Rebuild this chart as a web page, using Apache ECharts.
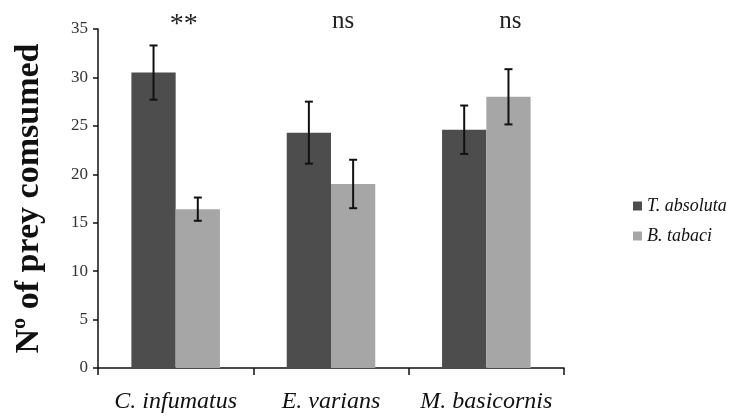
<!DOCTYPE html>
<html>
<head>
<meta charset="utf-8">
<script src="https://cdn.jsdelivr.net/npm/echarts@6/dist/echarts.min.js"></script>
<style>
  html, body { margin: 0; padding: 0; background: #fff; }
  #main { width: 733px; height: 416px; }
</style>
</head>
<body>
<div id="main"></div>
<script>
// data
var categories = ['C. infumatus', 'E. varians', 'M. basicornis'];
var tAbsoluta = [30.5, 24.3, 24.6];
var tAbsolutaErr = [2.8, 3.2, 2.5];
var bTabaci = [16.4, 19.0, 28.0];
var bTabaciErr = [1.2, 2.5, 2.85];
var signif = ['**', 'ns', 'ns'];

var serif = '"Liberation Serif", "DejaVu Serif", serif';
var barFrac = 0.285;

// error bar drawer, side -1 = left bar, +1 = right bar
function errItem(vals, errs, side) {
  return function (params, api) {
    var i = api.value(0);
    var bw = api.size([1, 0])[0] * barFrac;
    var x = api.coord([i, 0])[0] + side * bw / 2;
    var top = api.coord([i, vals[i] + errs[i]])[1];
    var bot = api.coord([i, vals[i] - errs[i]])[1];
    var cap = 4;
    var st = { stroke: '#111', lineWidth: 2 };
    return {
      type: 'group',
      children: [
        { type: 'line', shape: { x1: x, y1: top, x2: x, y2: bot }, style: st },
        { type: 'line', shape: { x1: x - cap, y1: top, x2: x + cap, y2: top }, style: st },
        { type: 'line', shape: { x1: x - cap, y1: bot, x2: x + cap, y2: bot }, style: st }
      ]
    };
  };
}

var chart = echarts.init(document.getElementById('main'));
var option = {
  animation: false,
  backgroundColor: '#fff',
  grid: { left: 98, right: 169, top: 29, bottom: 48 },
  legend: {
    orient: 'vertical',
    left: 628,
    top: 192,
    itemWidth: 9,
    itemHeight: 9,
    itemGap: 12,
    icon: 'rect',
    textStyle: { fontFamily: serif, fontStyle: 'italic', fontSize: 18, color: '#111' },
    data: ['T. absoluta', 'B. tabaci']
  },
  xAxis: {
    type: 'category',
    data: categories,
    axisLine: { lineStyle: { color: '#111', width: 1.5 } },
    axisTick: { show: true, interval: 0, length: 7, inside: false, lineStyle: { color: '#111', width: 1.5 } },
    axisLabel: {
      interval: 0,
      hideOverlap: false,
      fontFamily: serif, fontStyle: 'italic', fontSize: 24, color: '#111', margin: 22
    }
  },
  yAxis: {
    type: 'value',
    min: 0,
    max: 35,
    interval: 5,
    name: 'Nº of prey comsumed',
    nameLocation: 'middle',
    nameGap: 52,
    nameTextStyle: { fontFamily: serif, fontWeight: 'bold', fontSize: 34, color: '#111' },
    axisLine: { show: true, lineStyle: { color: '#111', width: 1.5 } },
    axisTick: { show: true, length: 5, lineStyle: { color: '#111', width: 1.5 } },
    splitLine: { show: false },
    axisLabel: { fontFamily: serif, fontSize: 17, color: '#333', margin: 10 }
  },
  series: [
    {
      name: 'T. absoluta',
      type: 'bar',
      data: tAbsoluta,
      barWidth: (barFrac * 100) + '%',
      barGap: '0%',
      itemStyle: { color: '#4d4d4d' }
    },
    {
      name: 'B. tabaci',
      type: 'bar',
      data: bTabaci,
      barWidth: (barFrac * 100) + '%',
      itemStyle: { color: '#a6a6a6' }
    },
    {
      type: 'custom',
      renderItem: errItem(tAbsoluta, tAbsolutaErr, -1),
      data: categories.map(function (c, i) { return [i]; }),
      z: 10
    },
    {
      type: 'custom',
      renderItem: errItem(bTabaci, bTabaciErr, 1),
      data: categories.map(function (c, i) { return [i]; }),
      z: 10
    }
  ]
};
chart.setOption(option);

// significance marks above each group
var labelOffsets = [8, 12, 24];
var marks = signif.map(function (s, i) {
  var px = chart.convertToPixel({ xAxisIndex: 0 }, i);
  return {
    type: 'text',
    x: px + labelOffsets[i],
    y: s === '**' ? 25 : 21,
    style: {
      text: s,
      fontFamily: serif,
      fontSize: s === '**' ? 28 : 25,
      fill: '#222',
      textAlign: 'center',
      textVerticalAlign: 'middle'
    }
  };
});
chart.setOption({ graphic: marks });
</script>
</body>
</html>
